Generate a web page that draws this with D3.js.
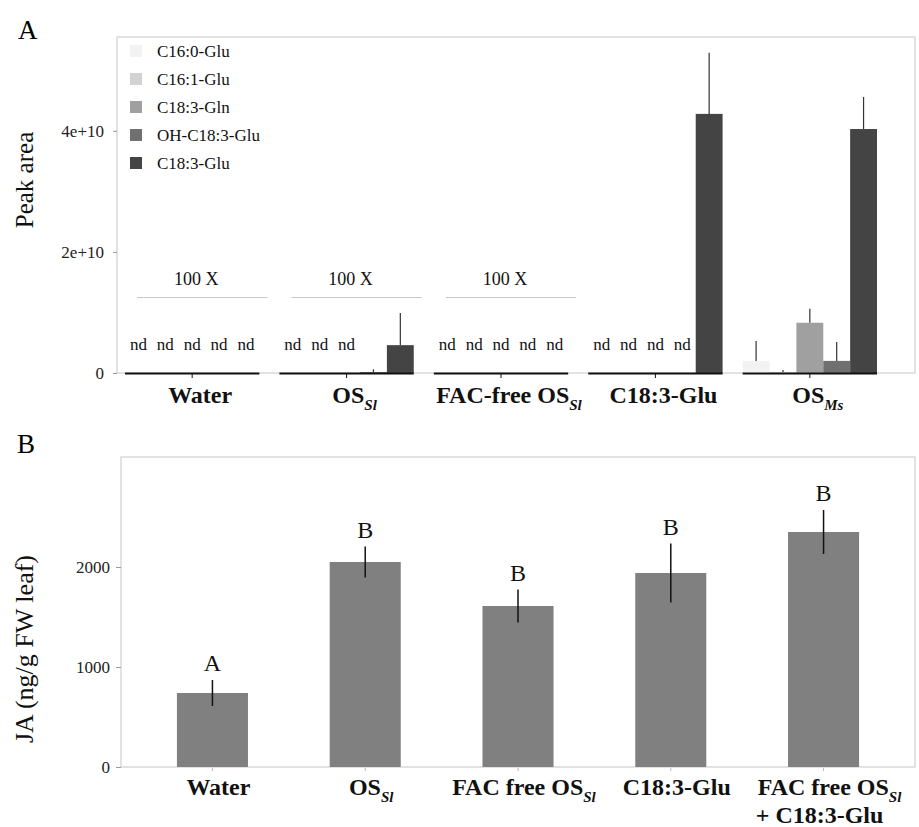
<!DOCTYPE html>
<html>
<head>
<meta charset="utf-8">
<script src="https://cdn.jsdelivr.net/npm/d3@7"></script>
<style>
  body { margin: 0; background: #fff; }
  svg { font-family: 'Liberation Serif', 'Times New Roman', serif; }
</style>
</head>
<body>
<div id="chart"></div>
<script>
// panel A: peak areas of FACs per treatment
const groupsA = ['Water', 'OS_Sl', 'FAC-free OS_Sl', 'C18:3-Glu', 'OS_Ms']
const seriesA = ['C16:0-Glu', 'C16:1-Glu', 'C18:3-Gln', 'OH-C18:3-Glu', 'C18:3-Glu']
const colorsA = ['#f2f2f2', '#d2d2d2', '#a0a0a0', '#707070', '#444444']
const c160Glu = [0, 0, 0, 0, 2.0e9]
const c161Glu = [0, 0, 0, 0, 1.5e8]
const c183Gln = [0, 0, 0, 0, 8.3e9]
const ohC183Glu = [0, 1.6e8, 0, 0, 2.0e9]
const c183Glu = [0, 4.6e9, 0, 4.28e10, 4.03e10]
const c160GluErr = [0, 0, 0, 0, 3.3e9]
const c161GluErr = [0, 0, 0, 0, 3.5e8]
const c183GlnErr = [0, 0, 0, 0, 2.3e9]
const ohC183GluErr = [0, 4.5e8, 0, 0, 3.1e9]
const c183GluErr = [0, 5.3e9, 0, 1.01e10, 5.3e9]
const magnified = ['Water', 'OS_Sl', 'FAC-free OS_Sl']
const ticksA = [0, 2e10, 4e10]

// panel B: JA levels
const groupsB = ['Water', 'OS_Sl', 'FAC free OS_Sl', 'C18:3-Glu', 'FAC free OS_Sl|+ C18:3-Glu']
const jaMean = [740, 2050, 1610, 1940, 2350]
const jaErr = [130, 155, 165, 295, 220]
const jaLetters = ['A', 'B', 'B', 'B', 'B']
const ticksB = [0, 1000, 2000]

const valuesA = [c160Glu, c161Glu, c183Gln, ohC183Glu, c183Glu]
const errorsA = [c160GluErr, c161GluErr, c183GlnErr, ohC183GluErr, c183GluErr]

const svg = d3.select('#chart')
  .append('svg')
  .attr('width', 919)
  .attr('height', 827)

// writes "OS_Sl" as OS with an italic subscript
const richLabel = (sel, label, subSize) => {
  const [main, sub] = label.split('_')
  sel.append('tspan').text(main)
  if (sub) {
    sel.append('tspan')
      .attr('dy', 7)
      .attr('font-size', subSize)
      .attr('font-style', 'italic')
      .text(sub)
  }
}

// ---------- panel A ----------
const xA = d3.scaleBand()
  .domain(groupsA)
  .range([125, 877])
  .paddingInner(0.13)

const xSub = d3.scaleBand()
  .domain(seriesA)
  .range([0, xA.bandwidth()])

const yA = d3.scaleLinear()
  .domain([0, 5.55e10])
  .range([373, 37])

const panelA = svg.append('g')

panelA.append('rect')
  .attr('x', 117)
  .attr('y', yA.range()[1])
  .attr('width', 915 - 117)
  .attr('height', yA.range()[0] - yA.range()[1])
  .attr('fill', 'none')
  .attr('stroke', '#c6c6c6')

panelA.append('g')
  .attr('transform', 'translate(117,0)')
  .call(d3.axisLeft(yA).tickValues(ticksA).tickSize(4).tickPadding(9)
    .tickFormat(d => d === 0 ? '0' : d.toExponential()))
  .call(g => g.select('.domain').remove())
  .call(g => g.selectAll('line').attr('stroke', '#999'))
  .selectAll('text')
  .attr('font-family', 'Liberation Serif, serif')
  .attr('font-size', 17)
  .attr('fill', '#222')

const barData = []
groupsA.forEach((g, gi) => {
  seriesA.forEach((s, si) => {
    barData.push({ group: g, series: s, color: colorsA[si], value: valuesA[si][gi], err: errorsA[si][gi] })
  })
})

const bars = panelA.selectAll('.barA')
  .data(barData)
  .enter()
  .append('g')
  .attr('class', 'barA')

bars.filter(d => d.value > 0)
  .append('rect')
  .attr('x', d => xA(d.group) + xSub(d.series))
  .attr('y', d => yA(d.value))
  .attr('width', xSub.bandwidth())
  .attr('height', d => yA(0) - yA(d.value))
  .attr('fill', d => d.color)

bars.filter(d => d.err > 0)
  .append('line')
  .attr('x1', d => xA(d.group) + xSub(d.series) + xSub.bandwidth() / 2)
  .attr('x2', d => xA(d.group) + xSub(d.series) + xSub.bandwidth() / 2)
  .attr('y1', d => yA(d.value))
  .attr('y2', d => yA(d.value + d.err))
  .attr('stroke', '#333')
  .attr('stroke-width', 1.2)

bars.filter(d => d.value === 0)
  .append('text')
  .attr('x', d => xA(d.group) + xSub(d.series) + xSub.bandwidth() / 2)
  .attr('y', 350)
  .attr('text-anchor', 'middle')
  .attr('font-size', 17)
  .attr('fill', '#111')
  .text('nd')

// black baseline under each group with a centre tick
const groupA = panelA.selectAll('.groupA')
  .data(groupsA)
  .enter()
  .append('g')
  .attr('class', 'groupA')

groupA.append('line')
  .attr('x1', d => xA(d))
  .attr('x2', d => xA(d) + xA.bandwidth())
  .attr('y1', yA(0) + 0.5)
  .attr('y2', yA(0) + 0.5)
  .attr('stroke', '#111')
  .attr('stroke-width', 2)

groupA.append('line')
  .attr('x1', d => xA(d) + xA.bandwidth() / 2)
  .attr('x2', d => xA(d) + xA.bandwidth() / 2)
  .attr('y1', yA(0))
  .attr('y2', yA(0) + 5)
  .attr('stroke', '#111')

groupA.append('text')
  .attr('x', d => xA(d) + xA.bandwidth() / 2 + 8)
  .attr('y', 403)
  .attr('text-anchor', 'middle')
  .attr('font-size', 24)
  .attr('font-weight', 'bold')
  .attr('fill', '#111')
  .each(function (d) { richLabel(d3.select(this), d, 15) })

const mag = groupA.filter(d => magnified.includes(d))
mag.append('line')
  .attr('x1', d => xA(d) + 12)
  .attr('x2', d => xA(d) + xA.bandwidth() + 8)
  .attr('y1', 297.5)
  .attr('y2', 297.5)
  .attr('stroke', '#c8c8c8')
mag.append('text')
  .attr('x', d => xA(d) + xA.bandwidth() / 2 + 4)
  .attr('y', 285)
  .attr('text-anchor', 'middle')
  .attr('font-size', 18)
  .attr('fill', '#111')
  .text('100 X')

// legend
const legend = panelA.selectAll('.legend')
  .data(seriesA)
  .enter()
  .append('g')
  .attr('class', 'legend')
  .attr('transform', (d, i) => `translate(130,${45 + i * 28})`)

legend.append('rect')
  .attr('width', 12)
  .attr('height', 12)
  .attr('fill', (d, i) => colorsA[i])

legend.append('text')
  .attr('x', 27)
  .attr('y', 12)
  .attr('font-size', 17)
  .attr('fill', '#111')
  .text(d => d)

panelA.append('text')
  .attr('x', 18)
  .attr('y', 39)
  .attr('font-size', 27)
  .text('A')

panelA.append('text')
  .attr('transform', 'translate(33,180) rotate(-90)')
  .attr('text-anchor', 'middle')
  .attr('font-size', 25)
  .attr('fill', '#111')
  .text('Peak area')

// ---------- panel B ----------
const xB = d3.scaleBand()
  .domain(groupsB)
  .range([121, 915])
  .paddingInner(0.535)
  .paddingOuter(0.366)

const yB = d3.scaleLinear()
  .domain([0, 3100])
  .range([767, 457])

const panelB = svg.append('g')

panelB.append('rect')
  .attr('x', 121)
  .attr('y', yB.range()[1])
  .attr('width', 915 - 121)
  .attr('height', yB.range()[0] - yB.range()[1])
  .attr('fill', 'none')
  .attr('stroke', '#c6c6c6')

panelB.append('g')
  .attr('transform', 'translate(121,0)')
  .call(d3.axisLeft(yB).tickValues(ticksB).tickSize(5).tickPadding(6).tickFormat(d3.format('d')))
  .call(g => g.select('.domain').remove())
  .call(g => g.selectAll('line').attr('stroke', '#999'))
  .selectAll('text')
  .attr('font-family', 'Liberation Serif, serif')
  .attr('font-size', 17)
  .attr('fill', '#222')

const jaData = groupsB.map((g, i) => ({ group: g, value: jaMean[i], err: jaErr[i], letter: jaLetters[i] }))

const barB = panelB.selectAll('.barB')
  .data(jaData)
  .enter()
  .append('g')
  .attr('class', 'barB')

barB.append('rect')
  .attr('x', d => xB(d.group))
  .attr('y', d => yB(d.value))
  .attr('width', xB.bandwidth())
  .attr('height', d => yB(0) - yB(d.value))
  .attr('fill', '#808080')

barB.append('line')
  .attr('x1', d => xB(d.group) + xB.bandwidth() / 2)
  .attr('x2', d => xB(d.group) + xB.bandwidth() / 2)
  .attr('y1', d => yB(d.value - d.err))
  .attr('y2', d => yB(d.value + d.err))
  .attr('stroke', '#111')
  .attr('stroke-width', 1.5)

barB.append('line')
  .attr('x1', d => xB(d.group) + xB.bandwidth() / 2)
  .attr('x2', d => xB(d.group) + xB.bandwidth() / 2)
  .attr('y1', yB(0) + 1)
  .attr('y2', yB(0) + 4)
  .attr('stroke', '#bbb')

barB.append('text')
  .attr('x', d => xB(d.group) + xB.bandwidth() / 2)
  .attr('y', d => yB(d.value + d.err) - 9)
  .attr('text-anchor', 'middle')
  .attr('font-size', 24)
  .attr('fill', '#111')
  .text(d => d.letter)

barB.append('text')
  .attr('x', d => xB(d.group) + xB.bandwidth() / 2 + 6)
  .attr('y', 795)
  .attr('text-anchor', 'middle')
  .attr('font-size', 24)
  .attr('font-weight', 'bold')
  .attr('fill', '#111')
  .each(function (d) {
    const lines = d.group.split('|')
    richLabel(d3.select(this), lines[0], 15)
    if (lines[1]) {
      d3.select(this).append('tspan')
        .attr('x', xB(d.group) + xB.bandwidth() / 2 - 4)
        .attr('y', 823)
        .text(lines[1])
    }
  })

panelB.append('text')
  .attr('x', 17)
  .attr('y', 453)
  .attr('font-size', 27)
  .text('B')

panelB.append('text')
  .attr('transform', 'translate(33,649) rotate(-90)')
  .attr('text-anchor', 'middle')
  .attr('font-size', 26)
  .attr('fill', '#111')
  .text('JA (ng/g FW leaf)')
</script>
</body>
</html>
